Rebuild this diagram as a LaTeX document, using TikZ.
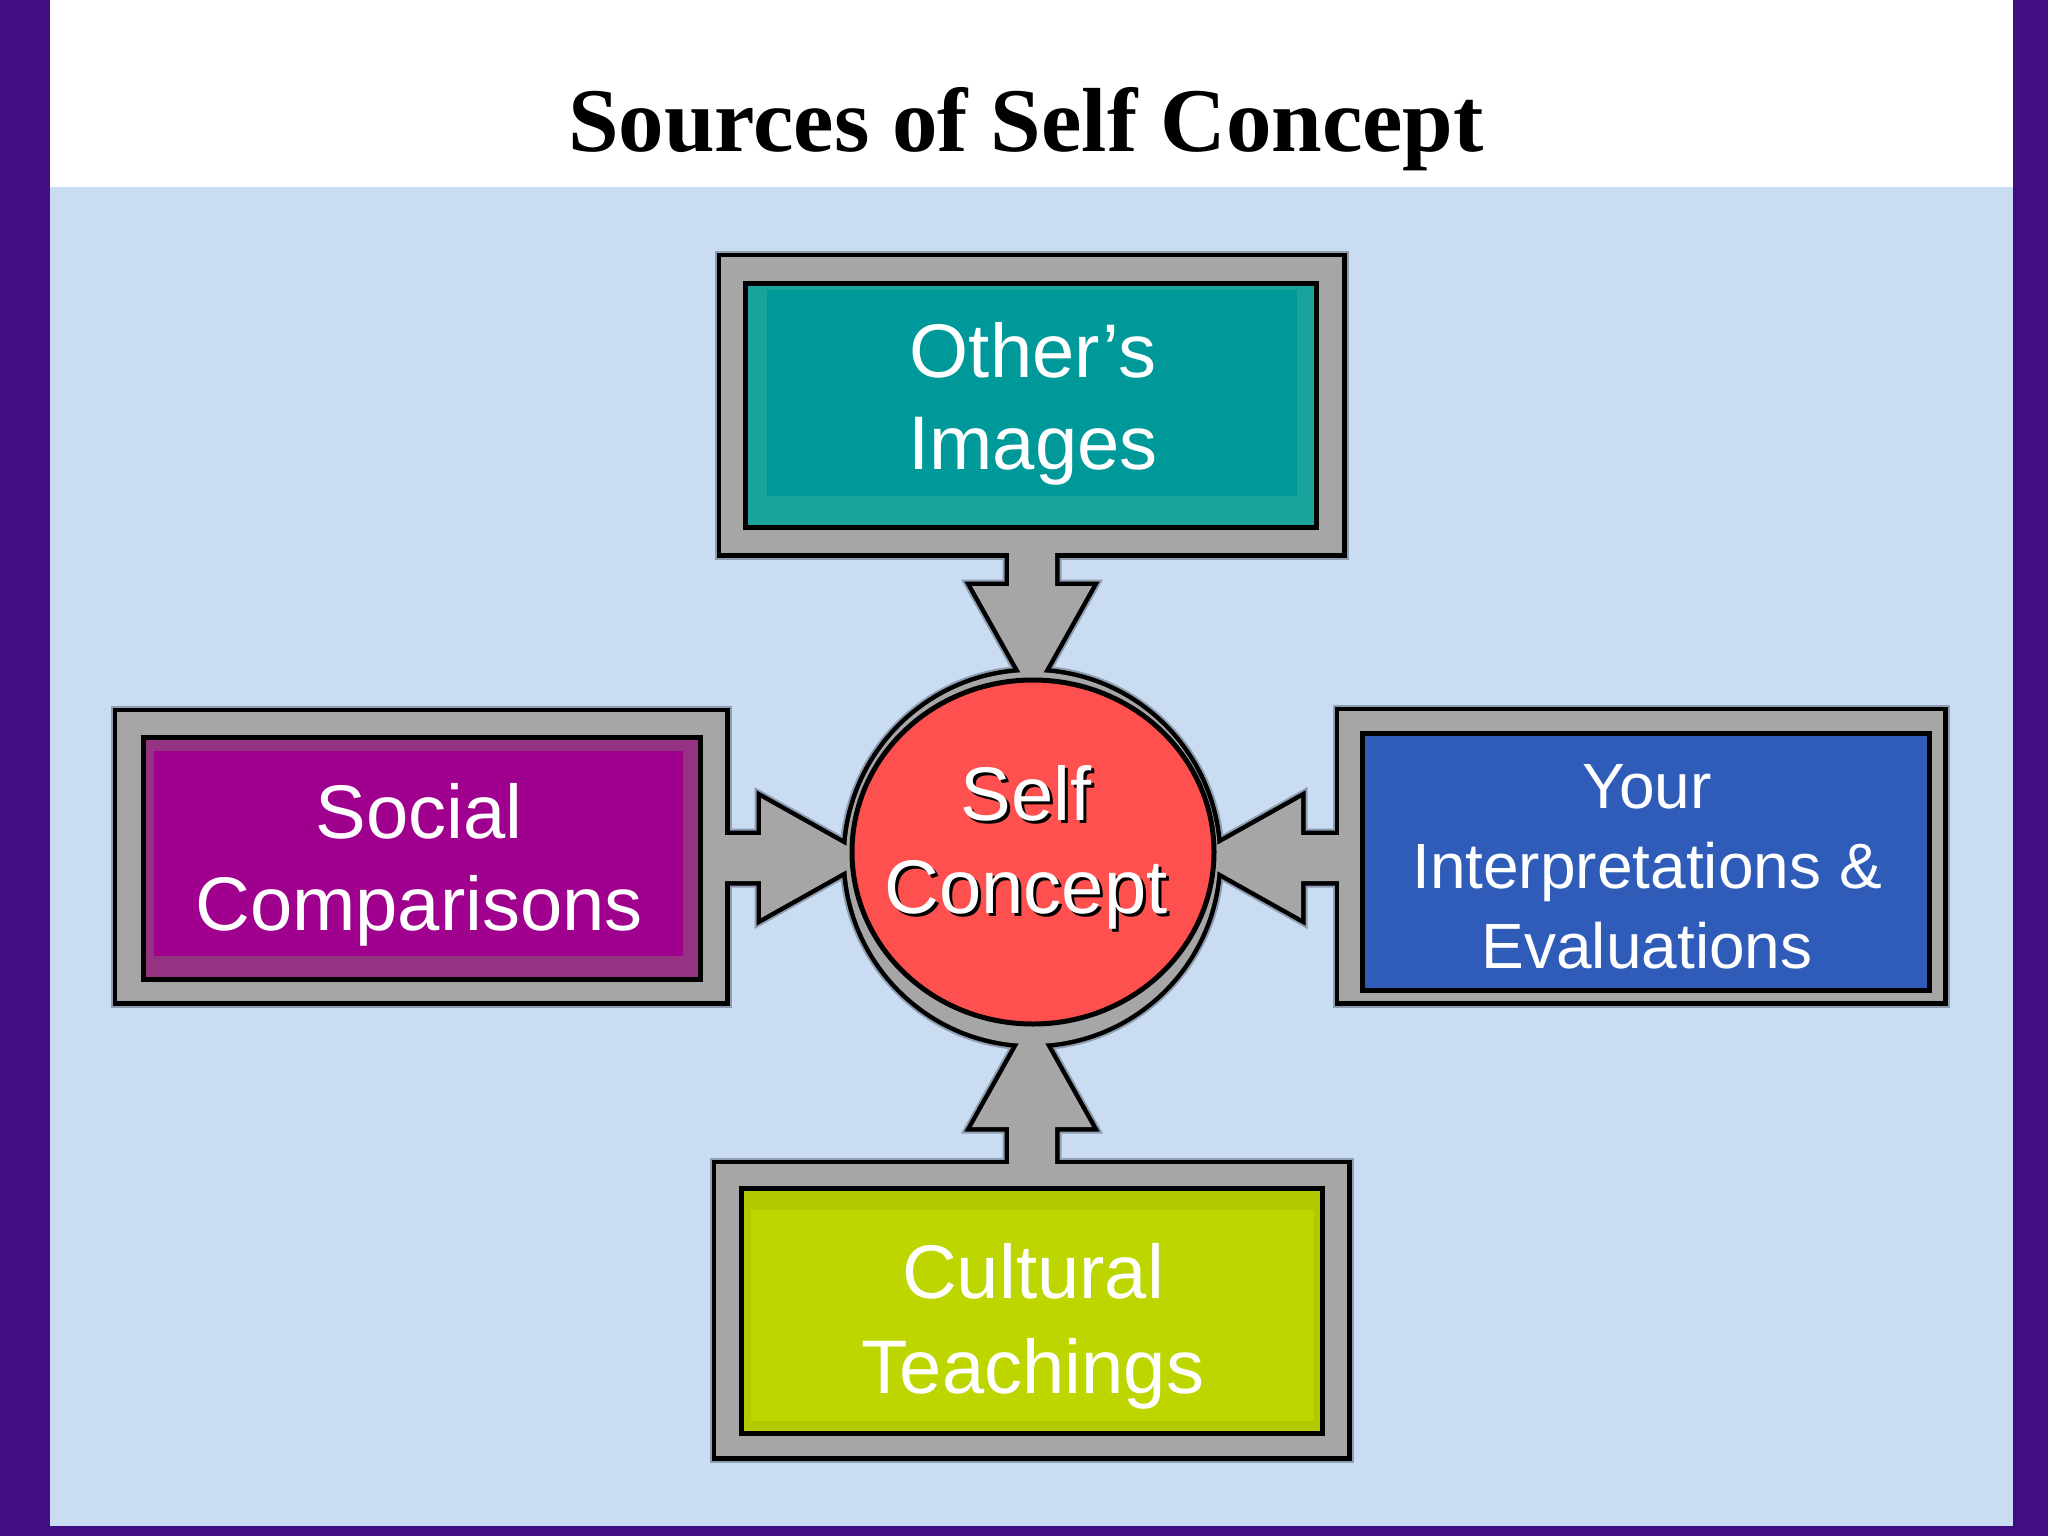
\documentclass[tikz,border=0pt]{standalone}
\usepackage{fontspec}
\setmainfont{Liberation Sans}
\newfontfamily\titlefont{Liberation Serif}
\usetikzlibrary{calc,shapes.geometric}
\definecolor{slidepurple}{HTML}{400D82}
\definecolor{panelblue}{HTML}{CADCF2}
\definecolor{framegray}{HTML}{A6A6A6}
\definecolor{halo}{HTML}{8E9DB0}
\definecolor{tealmain}{HTML}{009999}
\definecolor{tealbevel}{HTML}{1AA39D}
\definecolor{magmain}{HTML}{A0008E}
\definecolor{magbevel}{HTML}{963282}
\definecolor{bluemain}{HTML}{2E5CB8}
\definecolor{greenmain}{HTML}{BDD600}
\definecolor{greenbevel}{HTML}{B2C900}
\definecolor{selfred}{HTML}{FF5050}
\newcommand\grayshapes[1]{%
  \path[#1] (tf.south west) rectangle (tf.north east);
  \path[#1] (lf.south west) rectangle (lf.north east);
  \path[#1] (rf.south west) rectangle (rf.north east);
  \path[#1] (bf.south west) rectangle (bf.north east);
  \path[#1] ($(ring |- tf.south)+(-23,-10)$) -- ($(ring |- tf.south)+(-23,33)$) -- ($(ring |- tf.south)+(-60,33)$) -- ($(ring |- tf.south)+(0,140)$) -- ($(ring |- tf.south)+(60,33)$) -- ($(ring |- tf.south)+(23,33)$) -- ($(ring |- tf.south)+(23,-10)$) -- cycle;
  \path[#1] ($(ring |- bf.north)+(-23,10)$) -- ($(ring |- bf.north)+(-23,-37)$) -- ($(ring |- bf.north)+(-60,-37)$) -- ($(ring |- bf.north)+(0,-144)$) -- ($(ring |- bf.north)+(60,-37)$) -- ($(ring |- bf.north)+(23,-37)$) -- ($(ring |- bf.north)+(23,10)$) -- cycle;
  \path[#1] ($(lf.east |- ring)+(-10,-23)$) -- ($(lf.east |- ring)+(36,-23)$) -- ($(lf.east |- ring)+(36,-60)$) -- ($(lf.east |- ring)+(143,0)$) -- ($(lf.east |- ring)+(36,60)$) -- ($(lf.east |- ring)+(36,23)$) -- ($(lf.east |- ring)+(-10,23)$) -- cycle;
  \path[#1] ($(rf.west |- ring)+(10,-23)$) -- ($(rf.west |- ring)+(-38,-23)$) -- ($(rf.west |- ring)+(-38,-60)$) -- ($(rf.west |- ring)+(-145,0)$) -- ($(rf.west |- ring)+(-38,60)$) -- ($(rf.west |- ring)+(-38,23)$) -- ($(rf.west |- ring)+(10,23)$) -- cycle;
  \path[#1] (ring.center) circle[radius=186];
}
\begin{document}
\begin{tikzpicture}[x=1pt,y=-1pt,
  shp/.style={rectangle, inner sep=0pt, outer sep=0pt},
  inbox/.style={rectangle, draw=black, line width=5pt, inner sep=0pt, outer sep=0pt},
  lbl/.style={text=white, inner sep=0pt, font=\fontsize{76}{92}\selectfont},
  smalllbl/.style={text=white, inner sep=0pt, font=\fontsize{64}{80}\selectfont}]
\useasboundingbox (0,0) rectangle (2048,1536);
% slide background
\fill[slidepurple] (0,0) rectangle (2048,1536);
\fill[white] (50,0) rectangle (2013,187);
\fill[panelblue] (50,187) rectangle (2013,1526);
% title
\node[anchor=base, inner sep=0pt, font=\titlefont\bfseries\fontsize{91}{100}\selectfont] (title) at (1026,152) {Sources of Self Concept};
% gray frame shapes (positions only)
\node[shp, minimum width=621, minimum height=296] (tf) at (1031.5,405) {};
\node[shp, minimum width=608, minimum height=289] (lf) at (421,856.5) {};
\node[shp, minimum width=604, minimum height=290] (rf) at (1641,856) {};
\node[shp, minimum width=631, minimum height=292] (bf) at (1031.5,1310) {};
\node[circle, inner sep=0pt, outer sep=0pt, minimum size=372] (ring) at (1032,858) {};
% union of gray frames, arrows and ring: halo, outline, then fill on top
\grayshapes{draw=halo, line width=13pt}
\grayshapes{draw=black, line width=9pt}
\grayshapes{fill=framegray}
% coloured boxes
\node[inbox, fill=tealbevel, minimum width=571, minimum height=244] (ti) at (1030.5,405) {};
\fill[tealmain] ($(ti.south west)+(22,-31)$) rectangle ($(ti.north east)+(-19,7)$);
\node[inbox, fill=magbevel, minimum width=557, minimum height=242] (li) at (421.5,858) {};
\fill[magmain] ($(li.south west)+(11,-23)$) rectangle ($(li.north east)+(-17,14)$);
\node[inbox, fill=bluemain, minimum width=567, minimum height=257] (ri) at (1645.5,861.5) {};
\node[inbox, fill=greenbevel, minimum width=581, minimum height=245] (bi) at (1031.5,1310.5) {};
\fill[greenmain] ($(bi.south west)+(10,-12)$) rectangle ($(bi.north east)+(-8,22)$);
\node[ellipse, draw=black, line width=5pt, fill=selfred, inner sep=0pt, minimum width=362, minimum height=344] (self) at (1033,852) {};
% labels
\node[lbl, anchor=base] (otxt) at (1033,377) {\begin{tabular}[t]{@{}c@{}}Other’s\\Images\end{tabular}};
\node[lbl, anchor=base] (ltxt) at (419,838) {\begin{tabular}[t]{@{}c@{}}Social\\Comparisons\end{tabular}};
\node[smalllbl, anchor=base] (rtxt) at (1647,808) {\begin{tabular}[t]{@{}c@{}}Your\\Interpretations \&\\Evaluations\end{tabular}};
\node[lbl, anchor=base, font=\fontsize{76}{95}\selectfont] (btxt) at (1033,1298) {\begin{tabular}[t]{@{}c@{}}Cultural\\Teachings\end{tabular}};
\node[lbl, anchor=base, text=black, font=\fontsize{76}{93}\selectfont] (sshadow) at (1029,823) {\begin{tabular}[t]{@{}c@{}}Self\\Concept\end{tabular}};
\node[lbl, anchor=base, font=\fontsize{76}{93}\selectfont] (stxt) at (1026,820) {\begin{tabular}[t]{@{}c@{}}Self\\Concept\end{tabular}};
\end{tikzpicture}
\end{document}
